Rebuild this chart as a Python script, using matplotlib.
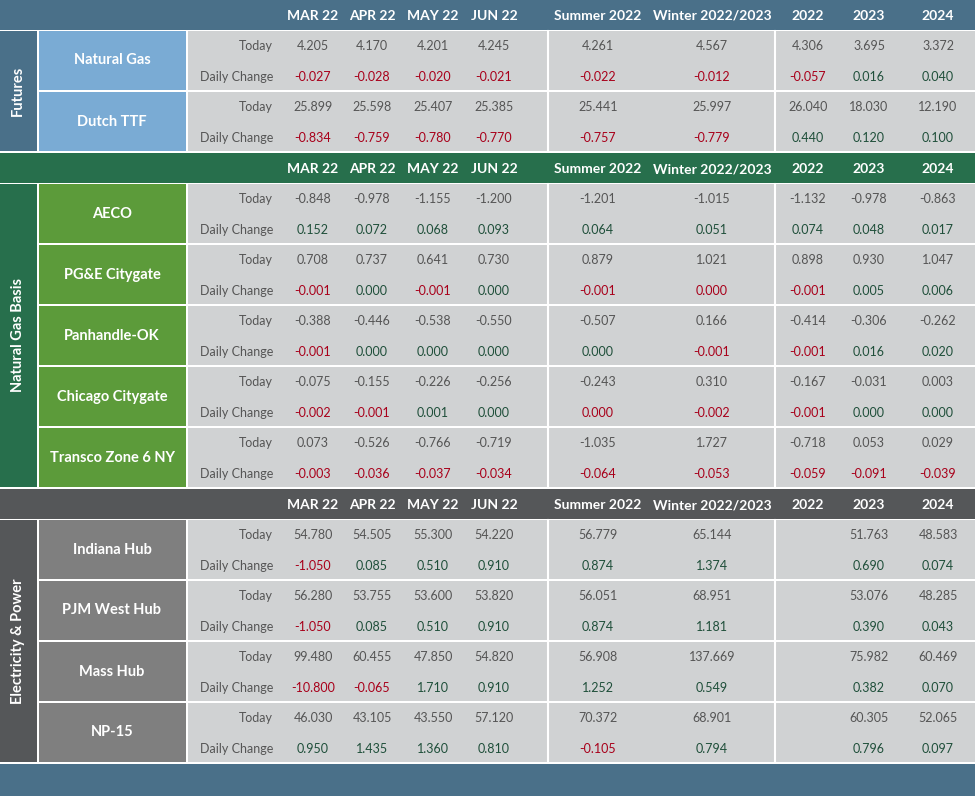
# Energy price table, drawn as patches and texts on a pixel grid
import numpy as np
from matplotlib import pyplot as plt, rcParams
from matplotlib.patches import Rectangle

rcParams['font.family'] = ['Lato', 'DejaVu Sans']  # font
rcParams['savefig.dpi'] = 100  # pixels

columns = ['MAR 22', 'APR 22', 'MAY 22', 'JUN 22', 'Summer 2022', 'Winter 2022/2023', '2022', '2023', '2024']
col_x = [313, 372, 433, 494, 598, 712, 808, 869, 938]

futures = ['Natural Gas', 'Dutch TTF']
futures_today = [[4.205, 4.170, 4.201, 4.245, 4.261, 4.567, 4.306, 3.695, 3.372],
                 [25.899, 25.598, 25.407, 25.385, 25.441, 25.997, 26.040, 18.030, 12.190]]
futures_change = [[-0.027, -0.028, -0.020, -0.021, -0.022, -0.012, -0.057, 0.016, 0.040],
                  [-0.834, -0.759, -0.780, -0.770, -0.757, -0.779, 0.440, 0.120, 0.100]]

basis = ['AECO', 'PG&E Citygate', 'Panhandle-OK', 'Chicago Citygate', 'Transco Zone 6 NY']
basis_today = [[-0.848, -0.978, -1.155, -1.200, -1.201, -1.015, -1.132, -0.978, -0.863],
               [0.708, 0.737, 0.641, 0.730, 0.879, 1.021, 0.898, 0.930, 1.047],
               [-0.388, -0.446, -0.538, -0.550, -0.507, 0.166, -0.414, -0.306, -0.262],
               [-0.075, -0.155, -0.226, -0.256, -0.243, 0.310, -0.167, -0.031, 0.003],
               [0.073, -0.526, -0.766, -0.719, -1.035, 1.727, -0.718, 0.053, 0.029]]
basis_change = [[0.152, 0.072, 0.068, 0.093, 0.064, 0.051, 0.074, 0.048, 0.017],
                [-0.001, 0.000, -0.001, 0.000, -0.001, -0.0004, -0.001, 0.005, 0.006],
                [-0.001, 0.000, 0.000, 0.000, 0.000, -0.001, -0.001, 0.016, 0.020],
                [-0.002, -0.001, 0.001, 0.000, -0.0004, -0.002, -0.001, 0.000, 0.000],
                [-0.003, -0.036, -0.037, -0.034, -0.064, -0.053, -0.059, -0.091, -0.039]]

power = ['Indiana Hub', 'PJM West Hub', 'Mass Hub', 'NP-15']
power_today = [[54.780, 54.505, 55.300, 54.220, 56.779, 65.144, None, 51.763, 48.583],
               [56.280, 53.755, 53.600, 53.820, 56.051, 68.951, None, 53.076, 48.285],
               [99.480, 60.455, 47.850, 54.820, 56.908, 137.669, None, 75.982, 60.469],
               [46.030, 43.105, 43.550, 57.120, 70.372, 68.901, None, 60.305, 52.065]]
power_change = [[-1.050, 0.085, 0.510, 0.910, 0.874, 1.374, None, 0.690, 0.074],
                [-1.050, 0.085, 0.510, 0.910, 0.874, 1.181, None, 0.390, 0.043],
                [-10.800, -0.065, 1.710, 0.910, 1.252, 0.549, None, 0.382, 0.070],
                [0.950, 1.435, 1.360, 0.810, -0.105, 0.794, None, 0.796, 0.097]]

sections = [('Futures', futures, futures_today, futures_change, '#4a7089', '#7aabd4'),
            ('Natural Gas Basis', basis, basis_today, basis_change, '#276f4c', '#5c9b3a'),
            ('Electricity & Power', power, power_today, power_change, '#555759', '#7f7f7f')]

W, H = 975, 796
HEAD = 30   # header band height
ROW = 61    # height of one name group

fig = plt.figure(figsize=(W / 100, H / 100))
ax = fig.add_axes([0, 0, 1, 1])
ax.set_xlim(0, W)
ax.set_ylim(H, 0)
ax.axis('off')

def fmt(v):
    s = '{:.3f}'.format(v)
    return s

y = 0
for title, names, today, change, dark, light in sections:
    # header band
    ax.add_patch(Rectangle((0, y), W, HEAD, color=dark, lw=0))
    for cx, c in zip(col_x, columns):
        ax.text(cx, y + HEAD / 2 + 1, c, color='white', fontsize=10, fontweight='bold', ha='center', va='center')
    y += HEAD + 1
    top = y
    for i, name in enumerate(names):
        gy = top + i * ROW
        ax.add_patch(Rectangle((39, gy), 147, ROW - 2, color=light, lw=0))
        ax.add_patch(Rectangle((188, gy), W - 188, ROW - 2, color='#d0d2d3', lw=0))
        ax.text(112, gy + ROW / 2 - 1, name, color='white', fontsize=10.5, fontweight='bold', ha='center', va='center')
        ax.text(273, gy + 15, 'Today', color='#555555', fontsize=9, ha='right', va='center')
        ax.text(273, gy + 46, 'Daily Change', color='#555555', fontsize=9, ha='right', va='center')
        for cx, t, d in zip(col_x, today[i], change[i]):
            if t is not None:
                ax.text(cx, gy + 15, fmt(t), color='#555555', fontsize=9, ha='center', va='center')
            if d is not None:
                s = fmt(d)
                col = '#a8001a' if d < 0 else '#1f4f3a'
                ax.text(cx, gy + 46, s.lstrip('-') if s == '-0.000' else s, color=col, fontsize=9, ha='center', va='center')
    h = len(names) * ROW - 2
    ax.add_patch(Rectangle((0, top), 37, h, color=dark, lw=0))
    ax.text(18, top + h / 2, title, color='white', fontsize=10.5, fontweight='bold', rotation=90, ha='center', va='center')
    for sx in [548, 775]:
        ax.plot([sx, sx], [top, top + h], color='white', lw=1.5)
    y = top + len(names) * ROW

ax.add_patch(Rectangle((0, y), W, H - y, color='#4a7089', lw=0))

plt.savefig('out.png')
